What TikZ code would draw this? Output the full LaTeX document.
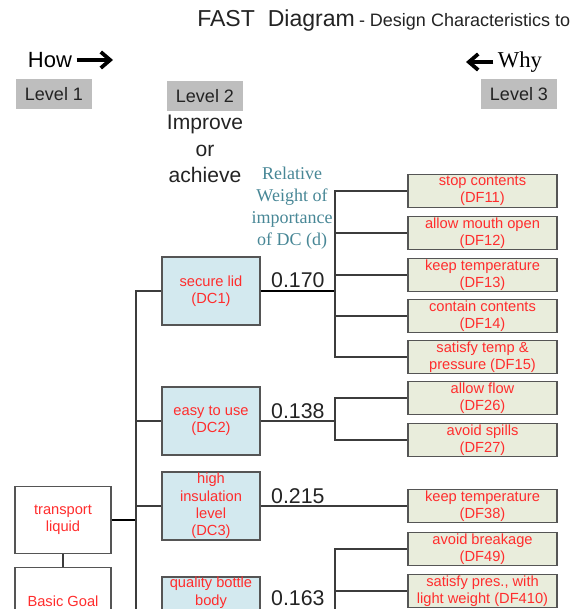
\documentclass[tikz,border=0pt]{standalone}
\usepackage{fontspec}
\setmainfont{Liberation Sans}
\newfontfamily\timesfont{Liberation Serif}
\usetikzlibrary{positioning, arrows.meta}

\definecolor{dcblue}{RGB}{211,233,239}
\definecolor{dfgreen}{RGB}{233,237,220}
\definecolor{lvlgray}{RGB}{190,190,190}
\definecolor{fred}{RGB}{255,45,45}
\definecolor{wteal}{RGB}{72,135,150}
\definecolor{boxline}{RGB}{85,85,85}
\definecolor{linegray}{RGB}{60,60,60}
\definecolor{darktxt}{RGB}{35,35,35}

\begin{document}
\begin{tikzpicture}[x=0.75pt, y=-0.75pt,
    every node/.style={font=\fontsize{11}{13}\selectfont},
    lvl/.style={rectangle, fill=lvlgray, minimum width=57pt, minimum height=22.5pt, font=\fontsize{13.5}{15}\selectfont, text=darktxt},
    dc/.style={rectangle, draw=boxline, line width=1.1pt, fill=dcblue, minimum width=73.5pt, minimum height=51pt, align=center, text=fred, inner sep=0pt},
    df/.style={rectangle, draw=boxline, line width=1.1pt, fill=dfgreen, minimum width=111.5pt, minimum height=24.5pt, align=center, text=fred, inner sep=0pt},
    fn/.style={rectangle, draw=boxline, line width=1.1pt, fill=white, minimum width=72pt, minimum height=50pt, align=center, text=fred, inner sep=0pt},
    link/.style={draw=linegray, line width=1pt},
    mainlink/.style={draw=black, line width=1.8pt},
    wt/.style={above, inner sep=1.5pt, font=\fontsize{16}{18}\selectfont, text=darktxt},
    hw/.style={line width=2.8pt, -{Straight Barb[length=7pt, width=12pt]}}]

  \useasboundingbox (0,0) rectangle (573,609);
  \clip (0,0) rectangle (573,609);

  % title and directions
  \node[anchor=base west, inner sep=0pt, text=darktxt] (title) at (197,27)
    {{\fontsize{17.3}{19}\selectfont FAST\ \ Diagram} {\fontsize{13.5}{15}\selectfont - Design Characteristics to}};
  \node[font=\fontsize{16.5}{18}\selectfont] (how) at (50,60) {How};
  \coordinate (howtip) at (113,60);
  \draw[hw] (how.east) -- (howtip);
  \node[font=\timesfont\fontsize{17}{19}\selectfont] (why) at (520,62) {Why};
  \coordinate (whytip) at (466,62);
  \draw[hw] (why.west) -- (whytip);

  \node[lvl] (lvl1) at (54,94) {Level 1};
  \node[lvl] (lvl2) at (205,96) {Level 2};
  \node[lvl] (lvl3) at (519,94) {Level 3};
  \node[align=center, font=\fontsize{15.8}{20}\selectfont, text=darktxt] (improve) at (205,149) {Improve\\or\\achieve};
  \node[align=center, font=\timesfont\fontsize{13.5}{16.5}\selectfont, text=wteal] (weight) at (292,208)
    {Relative\\Weight of\\importance\\of DC (d)};

  % level 1
  \node[fn] (goal)  at (63,520) {transport\\liquid};
  \node[fn] (basic) at (63,601) {Basic Goal};
  \draw[link] (goal.south) -- (basic.north);

  % level 2
  \node[dc] (dc1) at (211,291) {secure lid\\(DC1)};
  \node[dc] (dc2) at (211,421) {easy to use\\(DC2)};
  \node[dc] (dc3) at (211,506) {high\\insulation\\level\\(DC3)};
  \node[dc] (dc4) at (211,611) {};
  \node[anchor=north, align=center, text=fred, inner sep=0pt] (dc4txt) at ([yshift=-0.5pt]dc4.north) {quality bottle\\body};

  \coordinate (trunk) at (136,520);
  \draw[mainlink] (goal.east) -- (trunk);
  \draw[link] (trunk) |- (dc1.west);
  \draw[link] (trunk) |- (dc2.west);
  \draw[link] (trunk) |- (dc3.west);
  \draw[link] (trunk) |- (dc4.west);

  % level 3
  \node[df] (df11)  at (482.5,191) {stop contents\\(DF11)};
  \node[df] (df12)  at (482.5,233) {allow mouth open\\(DF12)};
  \node[df] (df13)  at (482.5,275) {keep temperature\\(DF13)};
  \node[df] (df14)  at (482.5,316) {contain contents\\(DF14)};
  \node[df] (df15)  at (482.5,357) {satisfy temp \&\\pressure (DF15)};
  \node[df] (df26)  at (482.5,398) {allow flow\\(DF26)};
  \node[df] (df27)  at (482.5,440) {avoid spills\\(DF27)};
  \node[df] (df38)  at (482.5,506) {keep temperature\\(DF38)};
  \node[df] (df49)  at (482.5,549) {avoid breakage\\(DF49)};
  \node[df] (df410) at (482.5,591) {satisfy pres., with\\light weight (DF410)};

  \coordinate (j1) at (335,291);
  \coordinate (j2) at (335,421);
  \coordinate (j3) at (335,506);
  \coordinate (j4) at (335,611);

  \draw[mainlink] (dc1.east) -- node[wt]{0.170} (j1);
  \foreach \d in {df11,df12,df13,df14,df15}
    \draw[link] (j1) |- (\d.west);

  \draw[link] (dc2.east) -- node[wt]{0.138} (j2);
  \draw[link] (j2) |- (df26.west);
  \draw[link] (j2) |- (df27.west);

  \draw[link] (dc3.east) -- node[wt]{0.215} (j3) -- (df38.west);

  \draw[link] (dc4.east) -- node[wt, yshift=2pt]{0.163} (j4);
  \draw[link] (j4) |- (df49.west);
  \draw[link] (j4) |- (df410.west);
\end{tikzpicture}
\end{document}
